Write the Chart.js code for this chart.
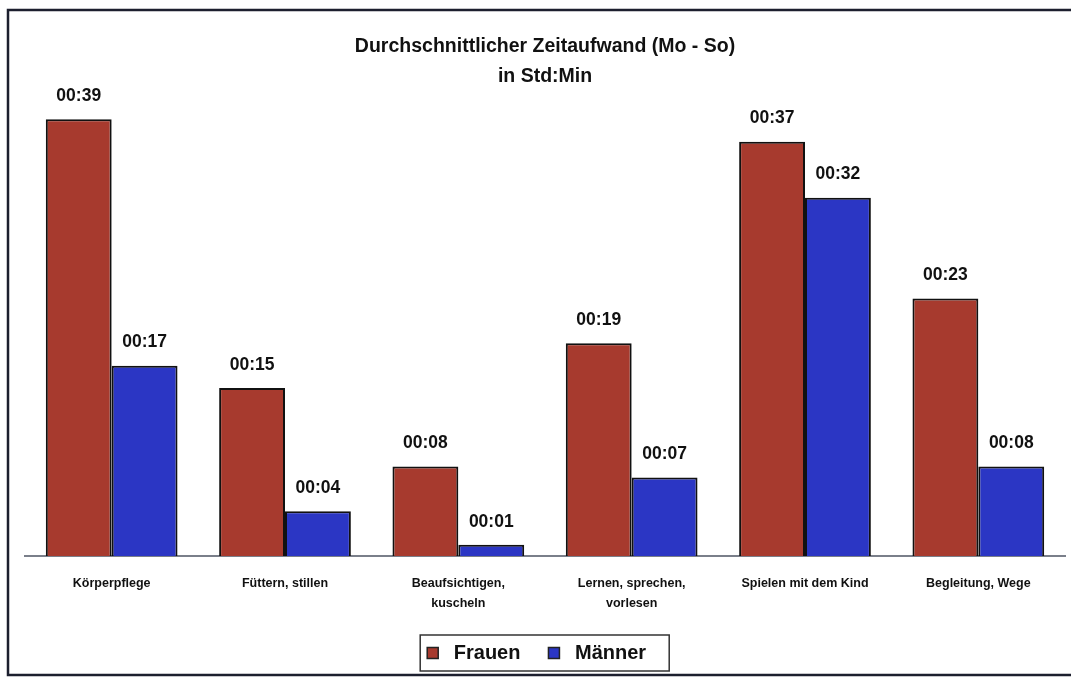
<!DOCTYPE html>
<html>
<head>
<meta charset="utf-8">
<script src="https://cdn.jsdelivr.net/npm/chart.js@4"></script>
<style>
  html, body { margin: 0; padding: 0; background: #fff; }
  #wrap { width: 1071px; height: 677px; position: relative; }
</style>
</head>
<body>
<div id="wrap"><canvas id="myChart" width="1071" height="677"></canvas></div>
<script>
const categories = ['Körperpflege', 'Füttern, stillen', ['Beaufsichtigen,', 'kuscheln'], ['Lernen, sprechen,', 'vorlesen'], 'Spielen mit dem Kind', 'Begleitung, Wege'];
const seriesNames = ['Frauen', 'Männer'];
// minutes per day
const frauen = [39, 15, 8, 19, 37, 23];
const maenner = [17, 4, 1, 7, 32, 8];
const titleLines = ['Durchschnittlicher Zeitaufwand (Mo - So)', 'in Std:Min'];

const FONT = 'Arial, "Liberation Sans", sans-serif';

function fmt(v) {
  const h = Math.floor(v / 60), m = Math.round(v % 60);
  return String(h).padStart(2, '0') + ':' + String(m).padStart(2, '0');
}

// frame around the whole chart (scan shows left, top and bottom edges)
const frame = {
  id: 'frame',
  beforeDraw(chart) {
    const c = chart.ctx;
    c.save();
    c.fillStyle = '#fff';
    c.fillRect(0, 0, chart.width, chart.height);
    c.strokeStyle = '#1c1f2e';
    c.lineWidth = 2.5;
    c.beginPath();
    c.moveTo(chart.width, 10);
    c.lineTo(8, 10);
    c.lineTo(8, 675);
    c.lineTo(chart.width, 675);
    c.stroke();
    c.restore();
  }
};

// value labels above bars
const valueLabels = {
  id: 'valueLabels',
  afterDatasetsDraw(chart) {
    const c = chart.ctx;
    c.save();
    c.font = 'bold 17.5px ' + FONT;
    c.fillStyle = '#111';
    c.textAlign = 'center';
    c.textBaseline = 'middle';
    chart.data.datasets.forEach((ds, i) => {
      chart.getDatasetMeta(i).data.forEach((bar, j) => {
        c.fillText(fmt(ds.data[j]), bar.x, bar.y - 23);
      });
    });
    c.restore();
  }
};

// box round the legend
const legendBox = {
  id: 'legendBox',
  afterDraw(chart) {
    const hb = chart.legend && chart.legend.legendHitBoxes;
    if (!hb || !hb.length) return;
    let y0 = Infinity, y1 = -Infinity;
    hb.forEach(b => {
      y0 = Math.min(y0, b.top); y1 = Math.max(y1, b.top + b.height);
    });
    const c = chart.ctx;
    c.save();
    c.strokeStyle = '#333';
    c.lineWidth = 1.5;
    c.strokeRect(hb[0].left - 7, y0 - 8, 249, y1 - y0 + 16);
    c.restore();
  }
};

const data = {
  labels: categories,
  datasets: [{
    label: seriesNames[0],
    data: frauen,
    backgroundColor: '#a73a2e',
    borderColor: '#111',
    borderWidth: 2
  }, {
    label: seriesNames[1],
    data: maenner,
    backgroundColor: '#2b36c4',
    borderColor: '#111',
    borderWidth: 2
  }]
};

const config = {
  type: 'bar',
  data,
  plugins: [frame, valueLabels, legendBox],
  options: {
    responsive: false,
    animation: false,
    layout: { padding: { left: 25, right: 6, top: 0, bottom: 4 } },
    datasets: { bar: { categoryPercentage: 0.76, barPercentage: 1 } },
    scales: {
      x: {
        grid: { display: false },
        border: { display: true, color: '#7a7f8a', width: 2 },
        ticks: {
          color: '#111',
          font: { family: FONT, size: 12.5, weight: 'bold', lineHeight: 1.6 },
          maxRotation: 0,
          autoSkip: false,
          padding: 10
        },
        afterFit(scale) { scale.height = 59; }
      },
      y: {
        display: false,
        min: 0,
        max: 40
      }
    },
    plugins: {
      title: {
        display: true,
        text: titleLines,
        color: '#111',
        font: { family: FONT, size: 19.5, weight: 'bold', lineHeight: 1.54 },
        padding: { top: 32, bottom: 16 }
      },
      legend: {
        position: 'bottom',
        labels: {
          color: '#111',
          font: { family: FONT, size: 20, weight: 'bold' },
          boxWidth: 11,
          boxHeight: 11,
          padding: 28,
          useBorderRadius: false,
          generateLabels(chart) {
            // leading space widens the marker gap, trailing ones pull the row left as in the scan
            return chart.data.datasets.map((ds, i) => ({
              text: ' ' + ds.label + (i === chart.data.datasets.length - 1 ? '   ' : ''),
              fillStyle: ds.backgroundColor,
              strokeStyle: '#222',
              lineWidth: 1.5,
              datasetIndex: i,
              fontColor: '#111'
            }));
          }
        }
      },
      tooltip: { enabled: false }
    }
  }
};

const myChart = new Chart(document.getElementById('myChart'), config);
</script>
</body>
</html>
